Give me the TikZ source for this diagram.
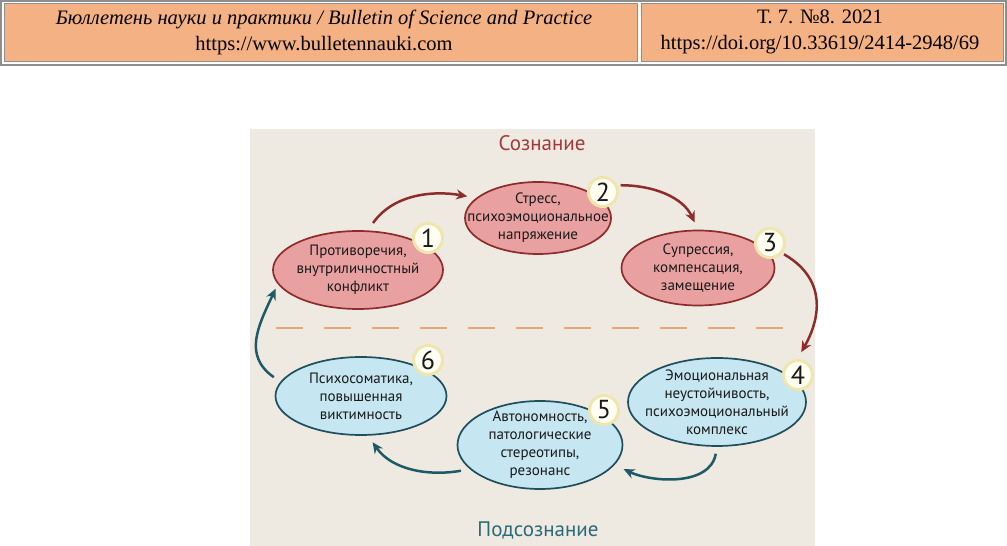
\documentclass[tikz,border=0pt]{standalone}
\usepackage{fontspec}
\setmainfont{Liberation Serif}
\newfontfamily\diafont{PT Sans}
\usetikzlibrary{shapes, arrows, arrows.meta, positioning}

\definecolor{hdrpeach}{HTML}{F4B183}
\definecolor{hdrgray}{HTML}{8E8E8E}
\definecolor{paper}{HTML}{EEEAE2}
\definecolor{rosefill}{HTML}{E8A1A0}
\definecolor{roseline}{HTML}{8E2B2B}
\definecolor{skyfill}{HTML}{C6E6F2}
\definecolor{skyline}{HTML}{1F4E5C}
\definecolor{tealarrow}{HTML}{1D5A66}
\definecolor{dashorange}{HTML}{E2A775}
\definecolor{badgering}{HTML}{EFE6AE}
\definecolor{badgefill}{HTML}{FFFEF2}
\definecolor{consred}{HTML}{A33A3A}
\definecolor{subteal}{HTML}{2A6A78}

\begin{document}
\begin{tikzpicture}[
        x=1pt, y=1pt,
        hdrtext/.style={align=center, font=\fontsize{20.5}{26}\selectfont},
        redstate/.style={ellipse, draw=roseline, line width=1.7pt, fill=rosefill, inner xsep=-30pt, inner ysep=-25pt, align=center, text=black!90, font=\diafont\fontsize{15}{18}\selectfont},
        bluestate/.style={ellipse, draw=skyline, line width=1.7pt, fill=skyfill, inner xsep=-30pt, inner ysep=-25pt, align=center, text=black!90, font=\diafont\fontsize{15}{18}\selectfont},
        badge/.style={circle, draw=badgering, line width=3pt, fill=badgefill, minimum size=29pt, inner sep=0pt, text=black!90, font=\diafont\fontsize{26}{26}\selectfont},
        zone/.style={font=\diafont\fontsize{21}{21}\selectfont},
        redarrow/.style={line width=2.5pt, draw=roseline, ->, >={Stealth[length=11pt, width=10pt]}},
        bluearrow/.style={line width=2.5pt, draw=tealarrow, ->, >={Stealth[length=11pt, width=10pt]}},
        divider/.style={line width=2.4pt, draw=dashorange, dash pattern=on 27pt off 21pt}
    ]
    \useasboundingbox (0,0) rectangle (1007,546);

    % Header of the journal page
    \draw [hdrgray, line width=1.2pt, fill=white] (1,481) rectangle (1006,545);
    \draw [hdrgray, line width=1pt, fill=hdrpeach] (4,484) rectangle (637,542);
    \draw [hdrgray, line width=1pt, fill=hdrpeach] (641,484) rectangle (1003,542);
    \draw [hdrgray, line width=2.5pt] (1,481) -- (1006,481);
    \node [hdrtext] (hdrleft) at (324,514) {\textit{Бюллетень науки и практики / Bulletin of Science and Practice}\\https://www.bulletennauki.com};
    \node [hdrtext] (hdrright) at (820,514) {Т. 7. №8. 2021\\https://doi.org/10.33619/2414-2948/69};

    % Figure background
    \fill [paper] (250,0) rectangle (815,417);

    % Zones
    \node [zone, text=consred] (cons) at (542,403) {Сознание};
    \node [zone, text=subteal] (subcons) at (538,16) {Подсознание};
    \draw [divider] (276,218) -- (784,218);

    % Conscious stages
    \node [redstate, minimum width=170pt, minimum height=78pt] (e1) at (358,276) {Противоречия,\\внутриличностный\\конфликт};
    \node [redstate, minimum width=146pt, minimum height=72pt] (e2) at (538,328) {Стресс,\\психоэмоциональное\\напряжение};
    \node [redstate, minimum width=153pt, minimum height=75pt] (e3) at (698,278) {Супрессия,\\компенсация,\\замещение};

    % Subconscious stages
    \node [bluestate, minimum width=178pt, minimum height=88pt] (e4) at (717,144) {Эмоциональная\\неустойчивость,\\психоэмоциональный\\комплекс};
    \node [bluestate, minimum width=165pt, minimum height=88pt] (e5) at (540,101) {Автономность,\\патологические\\стереотипы,\\резонанс};
    \node [bluestate, minimum width=171pt, minimum height=78pt] (e6) at (361,150) {Психосоматика,\\повышенная\\виктимность};

    % Step numbers
    \node [badge] (b1) at (428,308) {1};
    \node [badge] (b2) at (603,354) {2};
    \node [badge] (b3) at (770,303) {3};
    \node [badge] (b4) at (798,171) {4};
    \node [badge] (b5) at (604,136) {5};
    \node [badge] (b6) at (428,186) {6};

    % Cycle arrows
    \draw [redarrow, shorten <=9pt, shorten >=9pt] (e1.76) to[out=55, in=170] (e2.162);
    \draw [redarrow, shorten <=3pt, shorten >=8pt] (b2.25) to[out=0, in=115] (e3.90);
    \draw [redarrow, shorten <=2pt, shorten >=26pt] (b3.-40) to[out=-30, in=60, looseness=1.2] (e4.21);
    \draw [bluearrow, shorten <=7pt, shorten >=10pt] (e4.-90) to[out=-100, in=-25] (e5.-15);
    \draw [bluearrow, shorten <=9pt, shorten >=8pt] (e5.199) to[out=190, in=-55] (e6.-80);
    \draw [bluearrow, shorten <=8pt, shorten >=5pt] (e6.170) to[out=145, in=-115, looseness=1.2] (e1.190);
    \end{tikzpicture}
\end{document}
